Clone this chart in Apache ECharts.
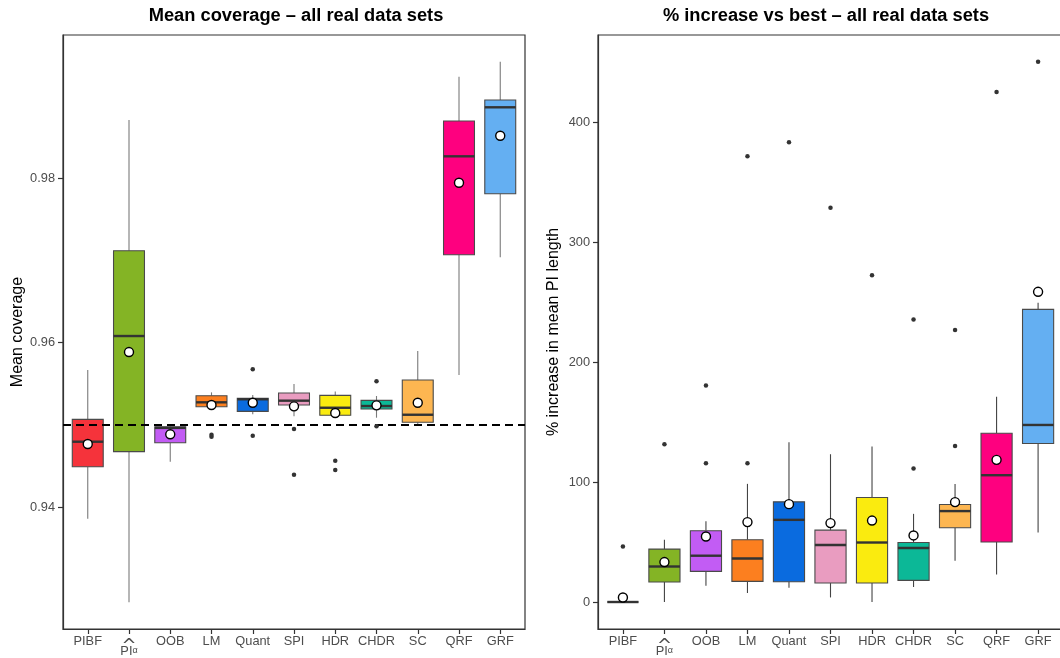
<!DOCTYPE html>
<html>
<head>
<meta charset="utf-8">
<script src="https://cdn.jsdelivr.net/npm/echarts@6/dist/echarts.min.js"></script>
<style>
html,body{margin:0;padding:0;background:#fff;}
#chart{width:1060px;height:658px;}
</style>
</head>
<body>
<div id="chart"></div>
<script>
// ---- data ----
const categories = ['PIBF', 'PIα', 'OOB', 'LM', 'Quant', 'SPI', 'HDR', 'CHDR', 'SC', 'QRF', 'GRF'];

// Mean coverage (left panel)
const covLow  = [0.93858, 0.92841, 0.94551, 0.95220, 0.95127, 0.95103, 0.95115, 0.95086, 0.95006, 0.95605, 0.97036];
const covQ1   = [0.94490, 0.94673, 0.94782, 0.95220, 0.95163, 0.95240, 0.95115, 0.95191, 0.95030, 0.97068, 0.97809];
const covMed  = [0.94794, 0.96079, 0.94962, 0.95273, 0.95310, 0.95293, 0.95207, 0.95228, 0.95122, 0.98264, 0.98860];
const covQ3   = [0.95066, 0.97116, 0.94975, 0.95353, 0.95322, 0.95386, 0.95358, 0.95297, 0.95544, 0.98693, 0.98948];
const covHigh = [0.95666, 0.98705, 0.94995, 0.95394, 0.95362, 0.95495, 0.95406, 0.95350, 0.95897, 0.99232, 0.99414];
const covMean = [0.94766, 0.95884, 0.94884, 0.95240, 0.95268, 0.95224, 0.95143, 0.95236, 0.95268, 0.97943, 0.98514];
const covOutCat = ['LM', 'LM', 'Quant', 'Quant', 'SPI', 'SPI', 'HDR', 'HDR', 'CHDR', 'CHDR'];
const covOutVal = [0.94879, 0.94855, 0.95674, 0.94867, 0.94948, 0.94393, 0.94563, 0.94450, 0.95528, 0.94981];
const covTarget = 0.95;
const covTicks = [0.94, 0.96, 0.98];

// % increase in mean PI length (right panel)
const pctLow  = [0, 0,    13.6, 7.5,  11.9, 3.8,  0,    12.5, 34.4, 23.0,  58.0];
const pctQ1   = [0, 16.7, 25.5, 17.2, 16.9, 15.8, 15.8, 18.0, 61.9, 50.0,  132.1];
const pctMed  = [0, 29.6, 38.6, 36.3, 68.5, 47.5, 49.6, 45.0, 75.8, 105.7, 147.6];
const pctQ3   = [0, 44.1, 59.4, 51.9, 83.5, 59.9, 87.1, 49.6, 81.3, 140.7, 244.0];
const pctHigh = [0, 51.9, 67.4, 98.5, 133.2, 123.2, 129.6, 73.5, 98.3, 171.2, 249.5];
const pctMean = [3.8, 33.3, 54.6, 66.6, 81.6, 65.8, 67.9, 55.5, 83.3, 118.5, 258.6];
const pctOutCat = ['PIBF', 'PIα', 'OOB', 'OOB', 'LM', 'LM', 'Quant', 'SPI', 'HDR', 'CHDR', 'CHDR', 'SC', 'SC', 'QRF', 'GRF'];
const pctOutVal = [46.3, 131.6, 115.7, 180.4, 115.7, 371.6, 383.3, 328.6, 272.5, 111.3, 235.6, 130.1, 226.7, 425.2, 450.5];
const pctTicks = [0, 100, 200, 300, 400];

const boxColors = ['#F5333B', '#84B425', '#C25CF4', '#FC7F1F', '#0A6BDF', '#E99CC0', '#FAEB0F', '#0CB897', '#FDB651', '#FE007F', '#64AFF2'];

// ---- helpers ----
const FONT = 'Liberation Sans, Arial, Helvetica, sans-serif';
const catPos = categories.map((c, i) => i + 1);

function boxData(lo, q1, med, q3, hi) {
  return categories.map((c, i) => [i + 1, lo[i], q1[i], med[i], q3[i], hi[i], i]);
}
function pointData(vals) { return vals.map((v, i) => [i + 1, v]); }
function outData(cats, vals) { return cats.map((c, i) => [categories.indexOf(c) + 1, vals[i]]); }

function makeRender(whiskerColor) {
  return function (params, api) {
    const x = api.value(0);
    const lo = api.value(1), q1 = api.value(2), med = api.value(3), q3 = api.value(4), hi = api.value(5);
    const ci = api.value(6);
    const w = api.size([0.75, 0])[0];
    const pLo = api.coord([x, lo]), pQ1 = api.coord([x, q1]), pMed = api.coord([x, med]);
    const pQ3 = api.coord([x, q3]), pHi = api.coord([x, hi]);
    const cx = pMed[0];
    return {
      type: 'group',
      children: [
        { type: 'line', shape: { x1: cx, y1: pHi[1], x2: cx, y2: pQ3[1] }, style: { stroke: whiskerColor, lineWidth: 1.1 } },
        { type: 'line', shape: { x1: cx, y1: pQ1[1], x2: cx, y2: pLo[1] }, style: { stroke: whiskerColor, lineWidth: 1.1 } },
        { type: 'rect', shape: { x: cx - w / 2, y: pQ3[1], width: w, height: pQ1[1] - pQ3[1] },
          style: { fill: boxColors[ci], stroke: '#4a4a4a', lineWidth: 1.1 } },
        { type: 'line', shape: { x1: cx - w / 2, y1: pMed[1], x2: cx + w / 2, y2: pMed[1] }, style: { stroke: '#333333', lineWidth: 2.4 } }
      ]
    };
  };
}

function labelFmt(v) {
  const c = categories[Math.round(v) - 1];
  if (c === 'PIα') return '{sp| }\n{hat|^}\n{pi|PI}{a|α}';
  return c;
}

function xAxisCfg(gi) {
  return {
    type: 'value', gridIndex: gi, min: 0.4, max: 11.6,
    splitLine: { show: false },
    axisLine: { show: true, onZero: false, lineStyle: { color: '#333', width: 1.2 } },
    axisTick: { show: true, customValues: catPos, length: 5, lineStyle: { color: '#333', width: 1.2 } },
    axisLabel: {
      customValues: catPos, formatter: labelFmt, color: '#4D4D4D', fontSize: 12.8, fontFamily: FONT, margin: 6,
      rich: {
        sp: { fontSize: 2, lineHeight: 11 },
        hat: { fontSize: 18, lineHeight: 1, color: '#4D4D4D', fontFamily: 'DejaVu Sans' },
        pi: { fontSize: 12.8, lineHeight: 8, color: '#4D4D4D', fontFamily: FONT },
        a: { fontSize: 9, lineHeight: 8, color: '#4D4D4D', fontFamily: FONT, verticalAlign: 'bottom', padding: [4, 0, 0, 0] }
      }
    }
  };
}

const chart = echarts.init(document.getElementById('chart'), null, { renderer: 'canvas' });
const option = {
  animation: false,
  backgroundColor: '#ffffff',
  textStyle: { fontFamily: FONT },
  title: [
    { text: 'Mean coverage – all real data sets', left: 291, textAlign: 'center', top: 2,
      textStyle: { fontSize: 18.3, fontWeight: 'bold', color: '#000', fontFamily: FONT } },
    { text: '% increase vs best – all real data sets', left: 821, textAlign: 'center', top: 2,
      textStyle: { fontSize: 18.3, fontWeight: 'bold', color: '#000', fontFamily: FONT } }
  ],
  grid: [
    { left: 63, top: 35, width: 462, height: 594, show: true, borderColor: '#333', borderWidth: 1.2, backgroundColor: 'transparent', outerBoundsMode: 'none', containLabel: false },
    { left: 598, top: 35, width: 465, height: 594, show: true, borderColor: '#333', borderWidth: 1.2, backgroundColor: 'transparent', outerBoundsMode: 'none', containLabel: false }
  ],
  xAxis: [xAxisCfg(0), xAxisCfg(1)],
  yAxis: [
    {
      type: 'value', gridIndex: 0, min: 0.92517, max: 0.99739,
      name: 'Mean coverage', nameLocation: 'middle', nameGap: 37,
      nameTextStyle: { fontSize: 16, color: '#000', fontFamily: FONT },
      splitLine: { show: false },
      axisLine: { show: true, onZero: false, lineStyle: { color: '#333', width: 1.2 } },
      axisTick: { show: true, customValues: covTicks, length: 5, lineStyle: { color: '#333', width: 1.2 } },
      axisLabel: { customValues: covTicks, formatter: v => v.toFixed(2), color: '#4D4D4D', fontSize: 12.8, fontFamily: FONT, margin: 8 }
    },
    {
      type: 'value', gridIndex: 1, min: -22.5, max: 472.7,
      name: '% increase in mean PI length', nameLocation: 'middle', nameGap: 36,
      nameTextStyle: { fontSize: 16, color: '#000', fontFamily: FONT },
      splitLine: { show: false },
      axisLine: { show: true, onZero: false, lineStyle: { color: '#333', width: 1.2 } },
      axisTick: { show: true, customValues: pctTicks, length: 5, lineStyle: { color: '#333', width: 1.2 } },
      axisLabel: { customValues: pctTicks, formatter: v => String(Math.round(v)), color: '#4D4D4D', fontSize: 12.8, fontFamily: FONT, margin: 8 }
    }
  ],
  series: [
    {
      type: 'custom', xAxisIndex: 0, yAxisIndex: 0, renderItem: makeRender('#7a7a7a'),
      data: boxData(covLow, covQ1, covMed, covQ3, covHigh),
      encode: { x: 0, y: [1, 2, 3, 4, 5] }, z: 2,
      markLine: {
        silent: true, symbol: 'none', label: { show: false }, z: 5,
        lineStyle: { type: [8, 5], color: '#000', width: 2 },
        data: [{ yAxis: covTarget }]
      }
    },
    {
      type: 'scatter', xAxisIndex: 0, yAxisIndex: 0, data: outData(covOutCat, covOutVal),
      symbol: 'circle', symbolSize: 4.5, itemStyle: { color: '#333', opacity: 1 }, z: 6
    },
    {
      type: 'scatter', xAxisIndex: 0, yAxisIndex: 0, data: pointData(covMean),
      symbol: 'circle', symbolSize: 9, itemStyle: { color: '#fff', borderColor: '#000', borderWidth: 1.4, opacity: 1 }, z: 7
    },
    {
      type: 'custom', xAxisIndex: 1, yAxisIndex: 1, renderItem: makeRender('#444444'),
      data: boxData(pctLow, pctQ1, pctMed, pctQ3, pctHigh),
      encode: { x: 0, y: [1, 2, 3, 4, 5] }, z: 2
    },
    {
      type: 'scatter', xAxisIndex: 1, yAxisIndex: 1, data: outData(pctOutCat, pctOutVal),
      symbol: 'circle', symbolSize: 4.5, itemStyle: { color: '#333', opacity: 1 }, z: 6
    },
    {
      type: 'scatter', xAxisIndex: 1, yAxisIndex: 1, data: pointData(pctMean),
      symbol: 'circle', symbolSize: 9, itemStyle: { color: '#fff', borderColor: '#000', borderWidth: 1.4, opacity: 1 }, z: 7
    }
  ]
};
chart.setOption(option);
</script>
</body>
</html>
